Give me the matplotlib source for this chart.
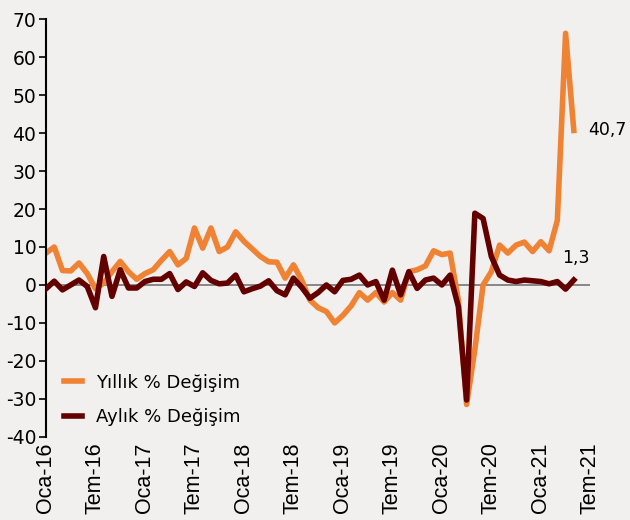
import matplotlib
matplotlib.use("Agg")
import matplotlib.pyplot as plt
from matplotlib.lines import Line2D

plt.rcParams["axes.unicode_minus"] = False

# Monthly data, Jan 2016 (Oca-16) .. May 2021
yillik = [8.4, 10, 3.8, 3.7, 5.8, 3, -1, 0.5, 3.5, 6.2, 3.5, 1.5,
          3, 4, 6.5, 8.8, 5.3, 7, 15, 9.7, 15, 8.8, 10, 14,
          11.5, 9.5, 7.5, 6.1, 6, 1.8, 5.3, 1.3, -4, -6, -7, -10,
          -8, -5.5, -2, -4, -2, -4.5, -2, -4, 3.5, 4, 5, 9,
          8, 8.4, -4, -31.5, -17, 0, 3.5, 10.5, 8.4, 10.5, 11.3, 8.8,
          11.4, 9, 17, 66.3, 40.7]
aylik = [-1, 1, -1.3, 0, 1.3, -0.4, -6, 7.5, -3, 4, -0.8, -0.8,
         0.9, 1.5, 1.5, 3, -1.2, 0.8, -0.4, 3.2, 1.2, 0.3, 0.5, 2.6,
         -1.8, -1, -0.3, 1.1, -1.5, -2.6, 1.8, -0.6, -3.5, -2, 0, -1.8,
         1.2, 1.5, 2.6, 0, 0.9, -4, 3.9, -2.6, 3.5, -0.9, 1.3, 1.8,
         0, 2.6, -5.7, -30.3, 18.9, 17.5, 7.5, 2.6, 1.3, 0.9, 1.3, 1.1,
         0.9, 0.3, 0.9, -1.1, 1.3]
tick_labels = ["Oca-16", "Tem-16", "Oca-17", "Tem-17", "Oca-18", "Tem-18",
               "Oca-19", "Tem-19", "Oca-20", "Tem-20", "Oca-21", "Tem-21"]
series_names = ["Yıllık % Değişim", "Aylık % Değişim"]
last_labels = ["40,7", "1,3"]

bg = "#f2f0ee"
c_orange = "#ef8233"
c_dark = "#630000"

fig = plt.figure(figsize=(6.3, 5.2), dpi=100, facecolor=bg)
ax = fig.add_axes([0.073, 0.160, 0.864, 0.803], facecolor=bg)

x = list(range(len(yillik)))
ax.axhline(0, color="#7f7f7f", lw=1.3, zorder=1)
ax.plot(x, yillik, color=c_orange, lw=4.0, solid_joinstyle="round", zorder=2)
ax.plot(x, aylik, color=c_dark, lw=4.0, solid_joinstyle="round", zorder=3)

ax.set_xlim(0, 66)
ax.set_ylim(-40, 70)
ax.set_yticks(range(-40, 71, 10))
ax.set_xticks(range(0, 67, 6))
ax.set_xticklabels(tick_labels, rotation=90, fontsize=15.5, family="Liberation Sans")
ax.tick_params(axis="x", length=0, pad=4)
ax.tick_params(axis="y", length=5, width=1.2, direction="out", labelsize=13.5, pad=2)
for s in ["top", "right", "bottom"]:
    ax.spines[s].set_visible(False)
ax.spines["left"].set_linewidth(1.5)

ax.text(65.8, yillik[-1], last_labels[0], fontsize=12.5, va="center", ha="left")
ax.text(64.3, 7.1, last_labels[1], fontsize=12.5, va="center", ha="center")

handles = [Line2D([0], [0], color=c_orange, lw=4.0),
           Line2D([0], [0], color=c_dark, lw=4.0)]
ax.legend(handles, series_names, loc="lower left", bbox_to_anchor=(0.013, 0.0),
          frameon=False, fontsize=13, handlelength=1.0, labelspacing=0.9,
          borderaxespad=0.2, handletextpad=0.8)

fig.savefig("out.png", dpi=100, facecolor=bg)
